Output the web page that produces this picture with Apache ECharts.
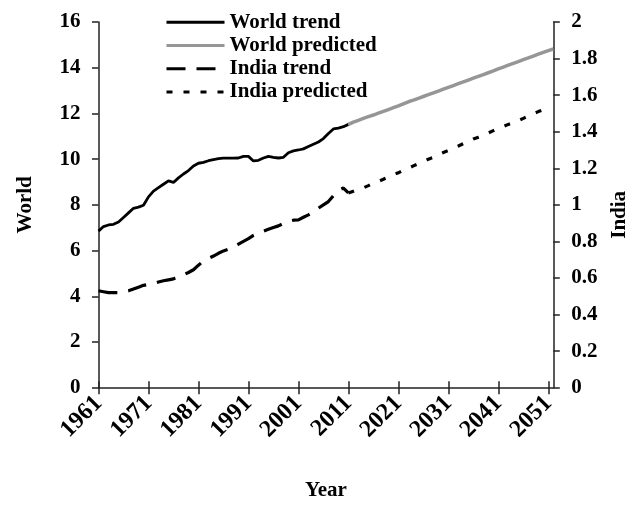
<!DOCTYPE html>
<html>
<head>
<meta charset="utf-8">
<script src="https://cdn.jsdelivr.net/npm/echarts@6/dist/echarts.min.js"></script>
<style>
html,body{margin:0;padding:0;background:#fff;}
#chart{width:643px;height:508px;}
</style>
</head>
<body>
<div id="chart"></div>
<script>
// Years 1961..2052
var years = [];
for (var y = 1961; y <= 2052; y++) years.push(String(y));

// World trend 1961..2011
var worldTrend = [6.85,7.05,7.12,7.15,7.25,7.45,7.65,7.85,7.90,7.98,
  8.35,8.60,8.75,8.90,9.05,8.98,9.18,9.35,9.50,9.70,
  9.82,9.86,9.93,9.98,10.02,10.04,10.04,10.04,10.05,10.12,
  10.12,9.92,9.95,10.05,10.12,10.08,10.05,10.08,10.28,10.36,
  10.40,10.45,10.55,10.65,10.75,10.90,11.12,11.32,11.36,11.42,
  11.52];
// World predicted 2011..2052
var worldPred = [11.52,11.62,11.70,11.78,11.86,11.93,12.01,12.09,12.17,12.25,
  12.33,12.42,12.51,12.58,12.66,12.74,12.82,12.90,12.98,13.06,
  13.14,13.22,13.30,13.38,13.46,13.54,13.62,13.70,13.78,13.86,
  13.95,14.03,14.11,14.19,14.27,14.35,14.43,14.51,14.59,14.67,
  14.75,14.82];
// India trend 1961..2011
var indiaTrend = [0.530,0.525,0.520,0.520,0.520,0.525,0.530,0.540,0.550,0.560,
  0.565,0.570,0.578,0.585,0.590,0.595,0.607,0.617,0.630,0.645,
  0.670,0.693,0.707,0.720,0.735,0.748,0.757,0.770,0.785,0.800,
  0.815,0.833,0.846,0.856,0.866,0.876,0.885,0.898,0.910,0.916,
  0.918,0.932,0.945,0.960,0.982,1.000,1.018,1.050,1.080,1.092,
  1.065];
// India predicted 2011..2051
var indiaPred = [1.065,1.075,1.085,1.093,1.105,1.118,1.128,1.140,1.152,1.165,
  1.175,1.190,1.200,1.213,1.225,1.237,1.250,1.260,1.273,1.286,
  1.297,1.310,1.322,1.335,1.347,1.360,1.370,1.382,1.393,1.406,
  1.418,1.428,1.440,1.450,1.460,1.473,1.485,1.498,1.510,1.520,
  1.530];

function pad(arr, startYear) {
  var out = [];
  for (var i = 0; i < years.length; i++) {
    var k = (1961 + i) - startYear;
    out.push(k >= 0 && k < arr.length ? arr[k] : null);
  }
  return out;
}

var FONT = '"Liberation Serif","Times New Roman",serif';
var AX = '#222';
var tickEvery = function (i) { return i % 10 === 0; };

var chart = echarts.init(document.getElementById('chart'), null, {renderer: 'canvas'});
var baseY = {
  type: 'value', splitLine: {show: false},
  axisLine: {show: true, lineStyle: {color: AX, width: 1.5}},
  axisTick: {show: true, length: 6.5, lineStyle: {color: AX, width: 1.5}}
};
chart.setOption({
  animation: false,
  backgroundColor: '#fff',
  textStyle: {fontFamily: FONT},
  grid: {left: 98.5, right: 89.7, top: 22, bottom: 120.3},
  legend: {
    orient: 'vertical', left: 160, top: 5.5, itemWidth: 58, itemHeight: 10, itemGap: 0,
    itemStyle: {opacity: 0, borderWidth: 0},
    lineStyle: {width: 3},
    textStyle: {fontFamily: FONT, fontWeight: 'bold', fontSize: 21, color: '#000', lineHeight: 23.3},
    data: ['World trend', 'World predicted', 'India trend', 'India predicted']
  },
  xAxis: [{
    type: 'category', data: years, boundaryGap: false,
    name: 'Year', nameLocation: 'middle', nameGap: 92,
    nameTextStyle: {fontFamily: FONT, fontWeight: 'bold', fontSize: 21, color: '#000'},
    axisLine: {lineStyle: {color: AX, width: 1.5}},
    axisTick: {interval: tickEvery, length: 6.5, lineStyle: {color: AX, width: 1.5}},
    axisLabel: {interval: tickEvery, rotate: 45, margin: 12, fontFamily: FONT, fontWeight: 'bold', fontSize: 24, color: '#000'}
  }, {
    type: 'category', data: years, boundaryGap: false, position: 'bottom',
    axisLine: {show: false},
    axisTick: {inside: true, interval: tickEvery, length: 6.5, lineStyle: {color: AX, width: 1.5}},
    axisLabel: {show: false}
  }],
  yAxis: [
    Object.assign({}, baseY, {
      min: 0, max: 16, interval: 2, position: 'left',
      name: 'World', nameLocation: 'middle', nameGap: 62,
      nameTextStyle: {fontFamily: FONT, fontWeight: 'bold', fontSize: 21, color: '#000'},
      axisLabel: {margin: 18, fontFamily: FONT, fontWeight: 'bold', fontSize: 21, color: '#000'}
    }),
    Object.assign({}, baseY, {
      min: 0, max: 2, interval: 0.2, position: 'right',
      name: 'India', nameLocation: 'middle', nameGap: 56, nameRotate: 90,
      nameTextStyle: {fontFamily: FONT, fontWeight: 'bold', fontSize: 21, color: '#000', padding: [0, 20, 0, 0]},
      axisLabel: {margin: 18, fontFamily: FONT, fontWeight: 'bold', fontSize: 21, color: '#000',
        formatter: function (v) { return String(Math.round(v * 10) / 10); }}
    }),
    Object.assign({}, baseY, {
      min: 0, max: 16, interval: 2, position: 'left', axisLine: {show: false},
      axisTick: {inside: true, length: 6.5, lineStyle: {color: AX, width: 1.5}}, axisLabel: {show: false}
    }),
    Object.assign({}, baseY, {
      min: 0, max: 2, interval: 0.2, position: 'right', axisLine: {show: false},
      axisTick: {inside: true, length: 6.5, lineStyle: {color: AX, width: 1.5}}, axisLabel: {show: false}
    })
  ],
  series: [
    {name: 'World trend', type: 'line', yAxisIndex: 0, symbol: 'none', connectNulls: false,
      data: pad(worldTrend, 1961), lineStyle: {color: '#000', width: 2.8}, itemStyle: {color: '#000'}},
    {name: 'World predicted', type: 'line', yAxisIndex: 0, symbol: 'none',
      data: pad(worldPred, 2011), lineStyle: {color: '#969696', width: 3.5}, itemStyle: {color: '#969696'}},
    {name: 'India trend', type: 'line', yAxisIndex: 1, symbol: 'none',
      data: pad(indiaTrend, 1961), lineStyle: {color: '#000', width: 3.2, type: [19, 11]}, itemStyle: {color: '#000'}},
    {name: 'India predicted', type: 'line', yAxisIndex: 1, symbol: 'none',
      data: pad(indiaPred, 2011), lineStyle: {color: '#000', width: 3.2, type: [6, 11]}, itemStyle: {color: '#000'}}
  ]
});
</script>
</body>
</html>
